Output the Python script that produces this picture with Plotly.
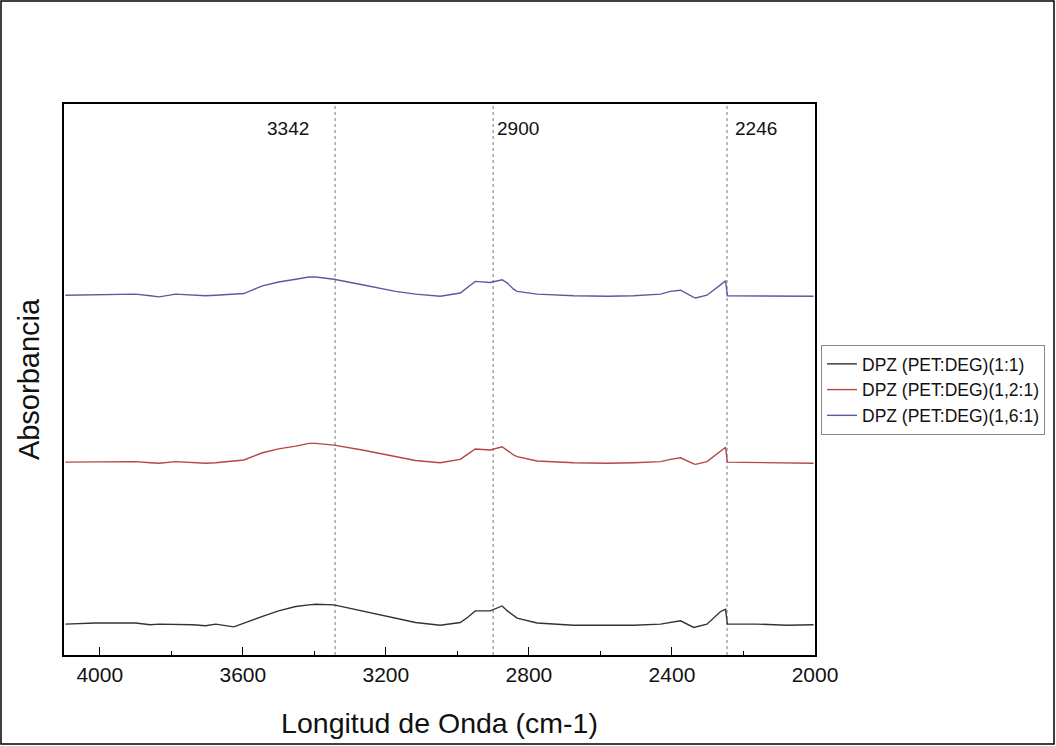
import plotly.graph_objects as go

# Wavenumbers (cm-1) at which the spectra were read
wn = [4096, 4012, 3900, 3859, 3834, 3788, 3740, 3704, 3676, 3625, 3597, 3545, 3500, 3452,
      3415, 3396, 3345, 3266, 3220, 3173, 3117, 3048, 2992, 2970, 2950, 2908, 2890, 2875,
      2860, 2843, 2833, 2777, 2675, 2581, 2507, 2432, 2404, 2395, 2376, 2339, 2334, 2302,
      2264, 2250, 2245, 2162, 2078, 2004]

black_11 = [0.056, 0.058, 0.058, 0.055, 0.056, 0.056, 0.055, 0.053, 0.056, 0.051, 0.058, 0.070, 0.080, 0.088,
            0.091, 0.092, 0.091, 0.080, 0.074, 0.067, 0.059, 0.054, 0.059, 0.069, 0.080, 0.080, 0.085, 0.089,
            0.080, 0.071, 0.067, 0.058, 0.054, 0.054, 0.054, 0.056, 0.059, 0.060, 0.062, 0.050, 0.051, 0.056,
            0.079, 0.083, 0.056, 0.056, 0.054, 0.055]

red_121 = [0.350, 0.351, 0.351, 0.349, 0.348, 0.351, 0.350, 0.348, 0.349, 0.352, 0.354, 0.367, 0.374, 0.379,
           0.384, 0.384, 0.381, 0.372, 0.366, 0.359, 0.353, 0.349, 0.355, 0.365, 0.374, 0.372, 0.375, 0.378,
           0.371, 0.363, 0.360, 0.352, 0.349, 0.348, 0.349, 0.351, 0.355, 0.356, 0.358, 0.347, 0.346, 0.351,
           0.370, 0.377, 0.350, 0.349, 0.349, 0.348]

blue_161 = [0.653, 0.654, 0.655, 0.652, 0.650, 0.655, 0.653, 0.652, 0.653, 0.655, 0.656, 0.670, 0.677, 0.682,
            0.686, 0.686, 0.682, 0.672, 0.666, 0.660, 0.655, 0.651, 0.657, 0.668, 0.678, 0.676, 0.679, 0.681,
            0.675, 0.664, 0.660, 0.655, 0.652, 0.651, 0.652, 0.655, 0.660, 0.661, 0.662, 0.649, 0.648, 0.653,
            0.673, 0.679, 0.652, 0.652, 0.651, 0.651]

series_names = ["DPZ (PET:DEG)(1:1)", "DPZ (PET:DEG)(1,2:1)", "DPZ (PET:DEG)(1,6:1)"]
series_colors = ["#333333", "#b84545", "#5a5aa0"]
peak_marks = [3342, 2900, 2246]
x_ticks = [4000, 3600, 3200, 2800, 2400, 2000]

W, H = 1056, 746
ML, MR, MT, MB = 64, 241, 104, 91
FONT = "Arial, Liberation Sans, sans-serif"

fig = go.Figure()
for name, ys, col in zip(series_names, [black_11, red_121, blue_161], series_colors):
    fig.add_trace(go.Scatter(x=wn, y=ys, mode="lines", name=name,
                             line=dict(color=col, width=1.4)))

for p in peak_marks:
    fig.add_shape(type="line", xref="x", yref="paper", x0=p, x1=p, y0=0, y1=1,
                  line=dict(color="#777777", width=1, dash="dot"), layer="below")

ann_font = dict(size=19, color="#111")
fig.add_annotation(x=3342, y=0.955, xref="x", yref="paper", text="3342", showarrow=False,
                   xanchor="right", yanchor="middle", xshift=-24, font=ann_font)
fig.add_annotation(x=2900, y=0.955, xref="x", yref="paper", text="2900", showarrow=False,
                   xanchor="left", yanchor="middle", xshift=2, font=ann_font)
fig.add_annotation(x=2246, y=0.955, xref="x", yref="paper", text="2246", showarrow=False,
                   xanchor="left", yanchor="middle", xshift=6, font=ann_font)

pw = W - ML - MR
ph = H - MT - MB
fig.add_shape(type="rect", xref="paper", yref="paper",
              x0=(1 - ML) / pw, x1=(W - 2 - ML) / pw,
              y0=-(H - 2 - MT - ph) / ph, y1=1 + (MT - 1) / ph,
              line=dict(color="black", width=1.5))

fig.update_layout(
    width=W, height=H,
    margin=dict(l=ML, r=MR, t=MT, b=MB, autoexpand=False),
    paper_bgcolor="white", plot_bgcolor="white",
    font=dict(family=FONT, color="#111"),
    showlegend=True,
    legend=dict(x=1.008, y=0.481, xanchor="left", yanchor="middle",
                bordercolor="#888", borderwidth=1, bgcolor="white",
                font=dict(size=17.5, family=FONT), tracegroupgap=0),
    xaxis=dict(range=[4100, 2000], tickvals=x_ticks, ticks="inside", ticklen=8,
               tickwidth=1.3, tickcolor="black", showline=True, linecolor="black",
               linewidth=2, mirror=True, showgrid=False, zeroline=False,
               tickfont=dict(size=21), title=dict(text="Longitud de Onda (cm-1)",
                                                   font=dict(size=28.5), standoff=28),
               minor=dict(dtick=200, tick0=2000, ticks="inside", ticklen=4,
                          tickcolor="black", showgrid=False)),
    yaxis=dict(range=[0, 1], showticklabels=False, ticks="", showline=True,
               linecolor="black", linewidth=2, mirror=True, showgrid=False,
               zeroline=False, title=dict(text="Absorbancia", font=dict(size=29),
                                          standoff=14)),
)

fig.write_html("out.html")
